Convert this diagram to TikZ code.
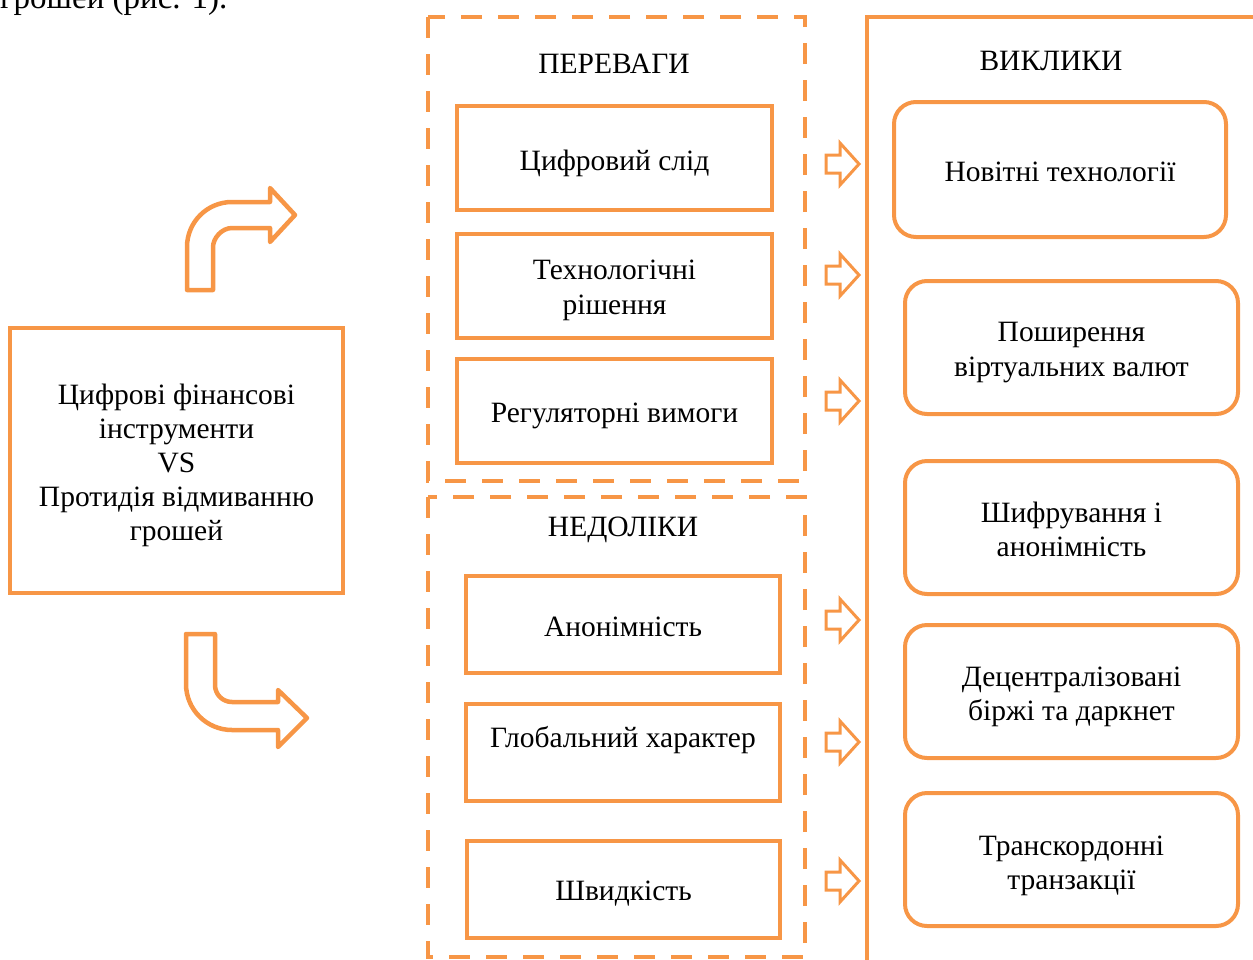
\documentclass[tikz,border=0pt]{standalone}
\usepackage{fontspec}
\setmainfont{Liberation Serif}
\definecolor{org}{HTML}{F79646}
\begin{document}
\begin{tikzpicture}[x=1pt,y=-1pt,
  txt/.style={font=\fontsize{29.5}{34.5}\selectfont, align=center, inner sep=0pt},
  sqbox/.style={draw=org, line width=4pt, rectangle, inner sep=0pt},
  rbox/.style={draw=org, line width=4pt, rectangle, rounded corners=22pt, inner sep=0pt},
  dashframe/.style={draw=org, line width=4pt, dash pattern=on 21pt off 16pt},
  blockarrow/.style={draw=org, line width=3pt, line join=miter},
  bentarrow/.style={draw=org, line width=4.5pt, line join=round}]
\useasboundingbox (0,0) rectangle (1253,959);

% partially visible caption text at top
\node[font=\fontsize{33}{38}\selectfont, inner sep=0pt, anchor=base west] (cap) at (0,8) {грошей (рис. 1).};

% left box
\node[sqbox, minimum width=333pt, minimum height=265pt] (main) at (176.5,460.5) {};
\node[txt, font=\fontsize{29.5}{34}\selectfont] (maintxt) at (176.5,465) {Цифрові фінансові\\інструменти\\VS\\Протидія відмиванню\\грошей};

% bent arrows
\draw[bentarrow] (187,290) -- (187,247) .. controls (187,222.1) and (207.1,202) .. (232,202)
  -- (270,202) -- (270,188) -- (295,215) -- (270,242) -- (270,228) -- (232,228)
  .. controls (221.5,228) and (213,238.5) .. (213,247) -- (213,290) -- cycle;
\draw[bentarrow] (186,634) -- (186,684) .. controls (186,709.4) and (206.6,730) .. (232,730)
  -- (278,730) -- (278,747) -- (307,718) -- (278,690) -- (278,702) -- (232,702)
  .. controls (222.6,702) and (215,694.4) .. (215,685) -- (215,634) -- cycle;

% dashed frames
\draw[dashframe] (428,17) rectangle (805,481);
\draw[dashframe] (428,497) rectangle (805,957);

% right frame
\draw[draw=org, line width=4pt] (867,17) rectangle (1275,980);

% labels
\node[txt] (adv) at (614,64) {ПЕРЕВАГИ};
\node[txt] (dis) at (623,530) {НЕДОЛІКИ};
\node[txt] (chl) at (1051,61) {ВИКЛИКИ};

% advantages
\node[sqbox, minimum width=315pt, minimum height=104pt] (p1) at (614.5,158) {};
\node[txt] at (614.5,163) {Цифровий слід};
\node[sqbox, minimum width=315pt, minimum height=104pt] (p2) at (614.5,286) {};
\node[txt] at (614.5,290.5) {Технологічні\\рішення};
\node[sqbox, minimum width=315pt, minimum height=104pt] (p3) at (614.5,411) {};
\node[txt] at (614.5,416) {Регуляторні вимоги};

% disadvantages
\node[sqbox, minimum width=314pt, minimum height=97pt] (n1) at (623,624.5) {};
\node[txt] at (623,626.5) {Анонімність};
\node[sqbox, minimum width=314pt, minimum height=97pt] (n2) at (623,752.5) {};
\node[txt] at (623,740) {Глобальний характер};
\node[sqbox, minimum width=313pt, minimum height=97pt] (n3) at (623.5,889.5) {};
\node[txt] at (623.5,894) {Швидкість};

% challenges
\node[rbox, minimum width=332pt, minimum height=135pt] (r1) at (1060,169.5) {};
\node[txt] at (1060,171.5) {Новітні технології};
\node[rbox, minimum width=333pt, minimum height=133pt] (r2) at (1071.5,347.5) {};
\node[txt] at (1071.5,352.5) {Поширення\\віртуальних валют};
\node[rbox, minimum width=333pt, minimum height=133pt] (r3) at (1071.5,527.5) {};
\node[txt] at (1071.5,529.5) {Шифрування і\\анонімність};
\node[rbox, minimum width=333pt, minimum height=133pt] (r4) at (1071.5,691.5) {};
\node[txt] at (1071.5,697) {Децентралізовані\\біржі та даркнет};
\node[rbox, minimum width=333pt, minimum height=133pt] (r5) at (1071.5,859.5) {};
\node[txt] at (1071.5,866) {Транскордонні\\транзакції};

% small block arrows
\foreach \yc in {164,275,401,620,742,881}{
  \draw[blockarrow] (826,\yc-9) -- (840,\yc-9) -- (840,\yc-21) -- (859,\yc)
    -- (840,\yc+21) -- (840,\yc+9) -- (826,\yc+9) -- cycle;
}
\end{tikzpicture}
\end{document}
